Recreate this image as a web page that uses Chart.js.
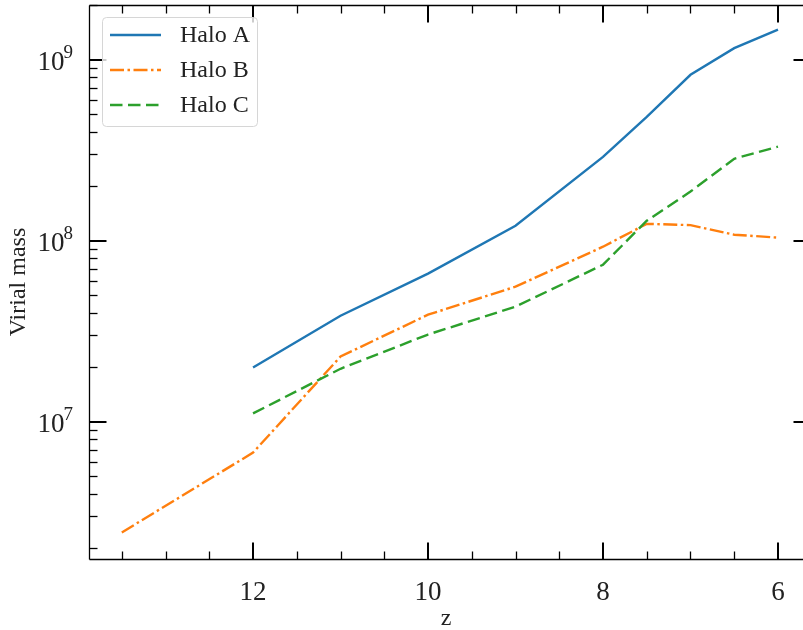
<!DOCTYPE html>
<html><head><meta charset="utf-8">
<script src="https://cdn.jsdelivr.net/npm/chart.js@4/dist/chart.umd.min.js"></script>
<style>
html,body{margin:0;padding:0;overflow:hidden;background:#fff;width:803px;height:630px}
canvas{display:block}
</style>
</head><body><canvas id="c" width="803" height="630"></canvas>
<script>
// ---- data ----
const zA = [12, 11, 10, 9, 8, 7.5, 7, 6.5, 6];
const massA = [1.99e7, 3.85e7, 6.58e7, 1.21e8, 2.91e8, 4.84e8, 8.27e8, 1.16e9, 1.47e9];
const zB = [13.5, 12, 11, 10, 9, 8, 7.5, 7, 6.5, 6];
const massB = [2.44e6, 6.74e6, 2.29e7, 3.90e7, 5.57e7, 9.27e7, 1.24e8, 1.22e8, 1.08e8, 1.04e8];
const zC = [12, 11, 10, 9, 8, 7.5, 7, 6.5, 6];
const massC = [1.11e7, 1.96e7, 3.03e7, 4.32e7, 7.37e7, 1.29e8, 1.87e8, 2.84e8, 3.31e8];
const seriesNames = ['Halo A', 'Halo B', 'Halo C'];
const xTickValues = [12, 10, 8, 6];
const xTickLabels = ['12', '10', '8', '6'];
const xMinorValues = [13.5, 13, 12.5, 11.5, 11, 10.5, 9.5, 9, 8.5, 7.5, 7, 6.5];
const yMajorExponents = [7, 8, 9];
const xLabel = 'z';
const yLabel = 'Virial mass';
const xAxisEnd = 5.625; // axes frame edge (lies just past the visible picture)

const SERIF = '"Liberation Serif", "DejaVu Serif", serif';
const colors = ['#1f77b4', '#ff7f0e', '#2ca02c'];
const dashes = [[], [14, 3.5, 2.5, 3.5], [12.5, 5.5]];

function pts(xs, ys){ return xs.map((v,i)=>({x:v, y:ys[i]})); }
const seriesData = [pts(zA, massA), pts(zB, massB), pts(zC, massC)];

const datasets = seriesData.map((d,i)=>({
  label: seriesNames[i], data: d, borderColor: colors[i], backgroundColor: colors[i],
  borderWidth: 2.4, borderDash: dashes[i], pointRadius: 0, tension: 0, fill: false,
  borderCapStyle: 'butt', order: 3 - i
}));

function line(ctx,x1,y1,x2,y2){ ctx.beginPath(); ctx.moveTo(x1,y1); ctx.lineTo(x2,y2); ctx.stroke(); }

const decor = {
  id: 'decor',
  afterDatasetsDraw(chart){
    const {ctx, chartArea:a, scales:{x, y}} = chart;
    const R = Math.round(x.getPixelForValue(xAxisEnd)) + 0.5;
    const L = Math.round(a.left) + 0.5, T = Math.round(a.top) + 0.5, B = Math.round(a.bottom) + 0.5;
    ctx.save();
    ctx.strokeStyle = '#000';
    // minor ticks
    ctx.lineWidth = 1.3;
    for (const v of xMinorValues){
      const px = Math.round(x.getPixelForValue(v)) + 0.5;
      line(ctx, px, B, px, B - 8);
      line(ctx, px, T, px, T + 8);
    }
    const ymin = y.min, ymax = y.max;
    for (let e = Math.floor(Math.log10(ymin)); e <= Math.ceil(Math.log10(ymax)); e++){
      for (let m = 2; m <= 9; m++){
        const v = m * Math.pow(10, e);
        if (v < ymin || v > ymax) continue;
        const py = Math.round(y.getPixelForValue(v)) + 0.5;
        line(ctx, L, py, L + 8, py);
        line(ctx, R, py, R - 8, py);
      }
    }
    // major ticks
    ctx.lineWidth = 2;
    for (const v of xTickValues){
      const px = Math.round(x.getPixelForValue(v));
      line(ctx, px, B, px, B - 17);
      line(ctx, px, T, px, T + 17);
    }
    for (const e of yMajorExponents){
      const py = Math.round(y.getPixelForValue(Math.pow(10, e)));
      line(ctx, L, py, L + 17, py);
      line(ctx, R, py, R - 18, py);
    }
    // spines
    ctx.lineWidth = 1.3;
    line(ctx, L, T, L, B);
    line(ctx, L, T, R, T);
    line(ctx, L, B, R, B);
    line(ctx, R, T, R, B);
    // x tick labels
    ctx.fillStyle = '#222';
    ctx.font = '27px ' + SERIF;
    ctx.textAlign = 'center';
    ctx.textBaseline = 'alphabetic';
    xTickValues.forEach((v,i)=>{
      ctx.fillText(xTickLabels[i], x.getPixelForValue(v), 600);
    });
    // y tick labels 10^n
    for (const e of yMajorExponents){
      const py = y.getPixelForValue(Math.pow(10, e));
      ctx.font = '19px ' + SERIF;
      const sup = String(e);
      const ws = ctx.measureText(sup).width;
      ctx.textAlign = 'left';
      const right = 73;
      ctx.fillText(sup, right - ws, py - 2);
      ctx.font = '27px ' + SERIF;
      const wb = ctx.measureText('10').width;
      ctx.fillText('10', right - ws - wb + 1, py + 10);
    }
    // legend
    const lx = 102, ly = 17, lw = 155, lh = 109;
    ctx.beginPath();
    ctx.roundRect(lx + 0.5, ly + 0.5, lw, lh, 4);
    ctx.fillStyle = 'rgba(255,255,255,0.8)';
    ctx.fill();
    ctx.strokeStyle = '#d6d6d6';
    ctx.lineWidth = 1;
    ctx.stroke();
    chart.data.datasets.forEach((ds,i)=>{
      const yy = 35 + i * 35;
      ctx.strokeStyle = ds.borderColor;
      ctx.lineWidth = ds.borderWidth;
      ctx.setLineDash(ds.borderDash);
      line(ctx, 110, yy, 161, yy);
      ctx.setLineDash([]);
      ctx.fillStyle = '#222';
      ctx.font = '24px ' + SERIF;
      ctx.textAlign = 'left';
      ctx.textBaseline = 'middle';
      ctx.fillText(ds.label, 180, yy + 1);
    });
    ctx.restore();
  }
};

new Chart(document.getElementById('c'), {
  type: 'line',
  data: { datasets },
  options: {
    responsive: false, animation: false, devicePixelRatio: 1,
    layout: { padding: { top: 5, right: 0, left: 0, bottom: 0 } },
    plugins: { legend: { display: false }, tooltip: { enabled: false } },
    scales: {
      x: {
        type: 'linear', reverse: true, min: 5.714, max: 13.875,
        grid: { display: false, drawTicks: false }, border: { display: false },
        ticks: { display: false },
        title: { display: true, text: xLabel, color: '#222', font: { family: SERIF, size: 24 }, padding: { top: 0, bottom: -3 } },
        afterFit(s){ s.height = 71; }
      },
      y: {
        type: 'logarithmic', min: 1.74e6, max: 2.01e9,
        grid: { display: false, drawTicks: false }, border: { display: false },
        ticks: { display: false },
        title: { display: true, text: yLabel, color: '#222', font: { family: SERIF, size: 24 }, padding: { top: 4, bottom: 0 } },
        afterFit(s){ s.width = 89; }
      }
    }
  },
  plugins: [decor]
});
</script>
</body></html>
